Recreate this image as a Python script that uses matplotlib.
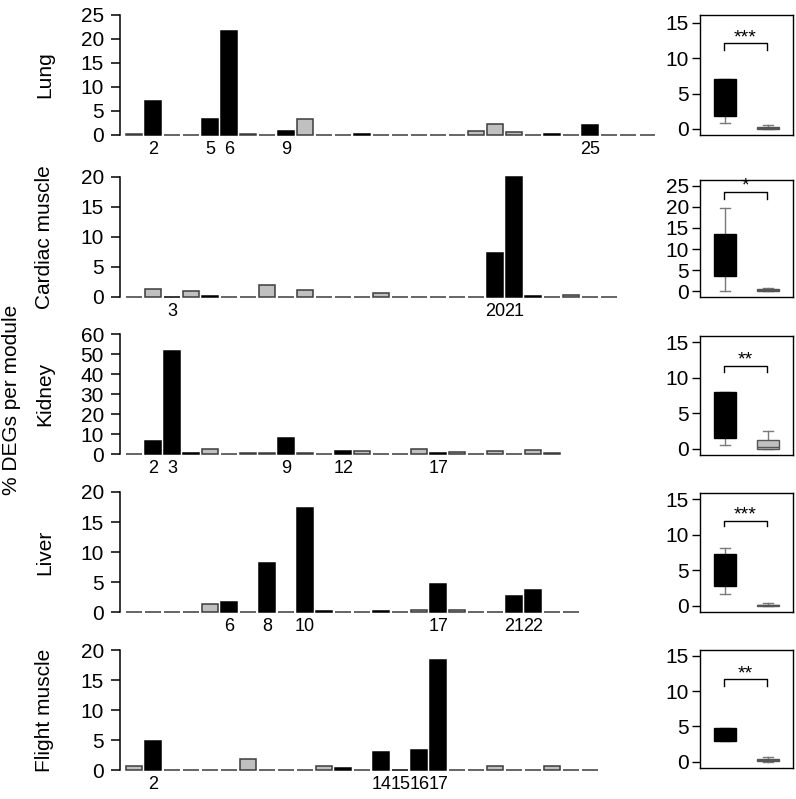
import matplotlib
matplotlib.use("Agg")
import matplotlib.pyplot as plt

plt.rcParams['font.family'] = ['Liberation Sans', 'DejaVu Sans']

tissues = ["Lung", "Cardiac muscle", "Kidney", "Liver", "Flight muscle"]

# % DEGs per module (bar heights), module index 1..n
lung_vals = [0.3, 7.0, 0, 0, 3.4, 21.7, 0.3, 0, 0.9, 3.3, 0, 0, 0.3, 0, 0, 0, 0, 0,
             0.8, 2.2, 0.6, 0, 0.3, 0, 2.0, 0, 0, 0]
lung_sig = [2, 5, 6, 9, 13, 23, 25]
lung_labels = [2, 5, 6, 9, 25]

cardiac_vals = [0, 1.4, 0, 1.0, 0.25, 0, 0, 2.0, 0, 1.1, 0, 0, 0, 0.6, 0, 0, 0, 0, 0,
                7.4, 20.0, 0.2, 0, 0.4, 0, 0]
cardiac_sig = [3, 5, 20, 21, 22]
cardiac_labels = [3, 20, 21]

kidney_vals = [0, 6.3, 51.6, 0.7, 2.5, 0, 0.3, 0.6, 8.1, 0.3, 0, 1.7, 1.3, 0, 0,
               2.6, 0.7, 1.0, 0, 1.7, 0, 1.8, 0.3]
kidney_sig = [2, 3, 4, 9, 12, 17]
kidney_labels = [2, 3, 9, 12, 17]

liver_vals = [0, 0, 0, 0, 1.4, 1.7, 0, 8.2, 0, 17.3, 0.2, 0, 0, 0.2, 0, 0.3, 4.7, 0.3,
              0, 0, 2.6, 3.7, 0, 0]
liver_sig = [6, 8, 10, 11, 14, 17, 21, 22]
liver_labels = [6, 8, 10, 17, 21, 22]

flight_vals = [0.6, 4.9, 0, 0, 0, 0, 1.8, 0, 0, 0, 0.6, 0.3, 0, 3.0, 0, 3.4, 18.4, 0,
               0, 0.6, 0, 0, 0.6, 0, 0]
flight_sig = [2, 12, 14, 15, 16, 17]
flight_labels = [2, 14, 15, 16, 17]

bar_values = [lung_vals, cardiac_vals, kidney_vals, liver_vals, flight_vals]
bar_sig = [lung_sig, cardiac_sig, kidney_sig, liver_sig, flight_sig]
bar_labels = [lung_labels, cardiac_labels, kidney_labels, liver_labels, flight_labels]
bar_ymax = [25, 20, 60, 20, 20]
bar_yticks = [[0, 5, 10, 15, 20, 25], [0, 5, 10, 15, 20], [0, 10, 20, 30, 40, 50, 60],
              [0, 5, 10, 15, 20], [0, 5, 10, 15, 20]]

# box plot stats: (whislo, q1, med, q3, whishi) for significant / non-significant modules
box_sig = [(0.8, 1.8, 3.4, 7.0, 7.0), (0.0, 3.7, 7.4, 13.6, 19.8), (0.6, 1.5, 6.0, 8.0, 8.0),
           (1.6, 2.7, 4.7, 7.3, 8.1), (2.9, 2.9, 4.0, 4.8, 4.8)]
box_non = [(0.0, 0.05, 0.2, 0.35, 0.55), (0.0, 0.1, 0.2, 0.4, 0.65), (0.0, 0.0, 0.3, 1.2, 2.5),
           (0.0, 0.0, 0.05, 0.15, 0.35), (0.0, 0.1, 0.2, 0.35, 0.65)]
box_yticks = [[0, 5, 10, 15], [0, 5, 10, 15, 20, 25], [0, 5, 10, 15], [0, 5, 10, 15], [0, 5, 10, 15]]
box_ylim = [(-0.85, 16.1), (-1.4, 26.4), (-0.85, 15.9), (-0.9, 15.85), (-0.9, 15.85)]
signif = ["***", "*", "**", "***", "**"]
bracket_y = [(12.1, 11.1), (23.6, 22.0), (11.7, 10.8), (11.95, 11.15), (11.7, 10.75)]

W, H = 796, 799
fig = plt.figure(figsize=(W / 100, H / 100), dpi=100)


def px_axes(left, top, right, bottom):
    return fig.add_axes([left / W, 1 - bottom / H, (right - left) / W, (bottom - top) / H])


FS = 15
XFS = 13
GRAY = "#C0C0C0"
EDGE = "#3C3C3C"

bar_tops = [15, 177, 334, 492, 650]
bar_bottoms = [135, 297, 454, 612, 770]
box_frames = [(15, 135), (180, 297), (336, 455), (493, 612), (650, 768)]
label_y = [75, 237, 394, 552, 710]

for k in range(5):
    ax = px_axes(120, bar_tops[k], 657, bar_bottoms[k])
    vals = bar_values[k]
    n = len(vals)
    xs = list(range(1, n + 1))
    colors = ["black" if i in bar_sig[k] else GRAY for i in xs]
    edges = ["black" if i in bar_sig[k] else EDGE for i in xs]
    ax.bar(xs, vals, width=0.84, color=colors, edgecolor=edges, linewidth=1.1, clip_on=False)
    ax.set_xlim(0.263, 28.5)
    ax.set_ylim(0, bar_ymax[k])
    for s in ["top", "right", "bottom"]:
        ax.spines[s].set_visible(False)
    ax.spines["left"].set_linewidth(1.1)
    ax.set_yticks(bar_yticks[k])
    ax.set_yticklabels([str(t) for t in bar_yticks[k]], fontsize=FS)
    ax.tick_params(axis="y", length=6.5, width=1.1, pad=5)
    ax.set_xticks(bar_labels[k])
    ax.set_xticklabels([str(t) for t in bar_labels[k]], fontsize=XFS)
    ax.tick_params(axis="x", length=0, pad=4)
    fig.text(45 / W, 1 - label_y[k] / H, tissues[k], rotation=90, ha="center", va="center",
             fontsize=FS)

    # box plot panel
    top, bottom = box_frames[k]
    bx = px_axes(700, top, 793, bottom)
    stats = []
    for st, lab in ((box_sig[k], "sig"), (box_non[k], "non")):
        stats.append(dict(whislo=st[0], q1=st[1], med=st[2], q3=st[3], whishi=st[4],
                          fliers=[], label=lab))
    bp = bx.bxp(stats, positions=[1, 2], widths=0.5, patch_artist=True, showfliers=False,
                boxprops=dict(linewidth=1.0, zorder=3),
                whiskerprops=dict(color="#7A7A7A", linewidth=1.0, zorder=1),
                capprops=dict(color="#7A7A7A", linewidth=1.0, zorder=1),
                medianprops=dict(linewidth=1.0, zorder=4))
    bp["boxes"][0].set_facecolor("black")
    bp["boxes"][0].set_edgecolor("black")
    bp["boxes"][1].set_facecolor(GRAY)
    bp["boxes"][1].set_edgecolor("#555555")
    bp["medians"][0].set_color("black")
    bp["medians"][1].set_color("#555555")
    for c in bp["caps"]:
        xd = c.get_xdata()
        mid = (xd[0] + xd[1]) / 2
        c.set_xdata([mid - 0.125, mid + 0.125])
    bx.set_xlim(0.42, 2.58)
    bx.set_ylim(*box_ylim[k])
    bx.set_xticks([])
    bx.set_yticks(box_yticks[k])
    bx.set_yticklabels([str(t) for t in box_yticks[k]], fontsize=FS)
    bx.tick_params(axis="y", length=6, width=1.0, pad=2)
    for s in bx.spines.values():
        s.set_linewidth(1.0)
    y1, y0 = bracket_y[k]
    bx.plot([0.97, 0.97, 1.97, 1.97], [y0, y1, y1, y0], color="black", linewidth=1.0)
    bx.annotate(signif[k], xy=(1.47, y1), xytext=(0, -2), textcoords="offset points",
                ha="center", va="bottom", fontsize=14)

fig.text(12 / W, 1 - 400 / H, "% DEGs per module", rotation=90, ha="center", va="center",
         fontsize=FS)

fig.savefig("out.png", dpi=100)
